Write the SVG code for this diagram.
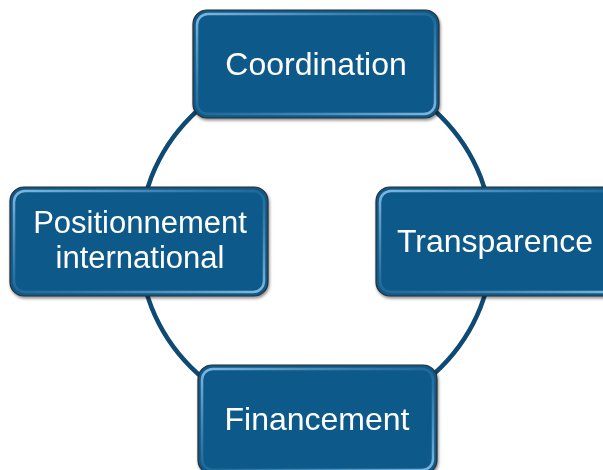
<svg xmlns="http://www.w3.org/2000/svg" width="603" height="470" viewBox="0 0 603 470">
<defs>
<linearGradient id="bevel" x1="0" y1="0" x2="1" y2="1">
<stop offset="0" stop-color="#8cc4ec" stop-opacity="0.9"/>
<stop offset="0.5" stop-color="#5fa0d0" stop-opacity="0.2"/>
<stop offset="1" stop-color="#8cc4ec" stop-opacity="0.9"/>
</linearGradient>
<filter id="sh" x="-10%" y="-10%" width="120%" height="130%">
<feGaussianBlur in="SourceAlpha" stdDeviation="1.5"/>
<feOffset dx="1" dy="2" result="b"/>
<feComponentTransfer><feFuncA type="linear" slope="0.45"/></feComponentTransfer>
<feMerge><feMergeNode/><feMergeNode in="SourceGraphic"/></feMerge>
</filter>
</defs>
<style>
.box{fill:#0f5a8a;stroke:#2e2e2e;stroke-width:1.2}
.bev{fill:none;stroke:url(#bevel);stroke-width:2.5}
.lbl{font-family:"Liberation Sans",Arial,sans-serif;font-size:32px;fill:#ffffff;text-anchor:middle}
.arc{fill:none;stroke:#0e4a73;stroke-width:4.5}
</style>
<g id="connectors">
<path class="arc" d="M316,65 A177,177 0 0 1 493,242"/>
<path class="arc" d="M493,242 A177,177 0 0 1 316,419"/>
<path class="arc" d="M316,419 A177,177 0 0 1 139,242"/>
<path class="arc" d="M139,242 A177,177 0 0 1 316,65"/>
</g>
<g id="coordination" filter="url(#sh)">
<rect class="box" x="193" y="10" width="246" height="108" rx="14"/>
<rect class="bev" x="197" y="14" width="238" height="100" rx="11"/>
<text class="lbl" x="316" y="75">Coordination</text>
</g>
<g id="transparence" filter="url(#sh)">
<rect class="box" x="376" y="187" width="246" height="109" rx="14"/>
<rect class="bev" x="380" y="191" width="238" height="101" rx="11"/>
<text class="lbl" x="495" y="252">Transparence</text>
</g>
<g id="positionnement" filter="url(#sh)">
<rect class="box" x="10" y="187" width="258" height="109" rx="14"/>
<rect class="bev" x="14" y="191" width="250" height="101" rx="11"/>
<text class="lbl" x="140" y="233" style="font-size:31px">Positionnement</text>
<text class="lbl" x="140" y="268" style="font-size:31px">international</text>
</g>
<g id="financement" filter="url(#sh)">
<rect class="box" x="198" y="365" width="239" height="109" rx="14"/>
<rect class="bev" x="202" y="369" width="231" height="101" rx="11"/>
<text class="lbl" x="317" y="430">Financement</text>
</g>
</svg>
